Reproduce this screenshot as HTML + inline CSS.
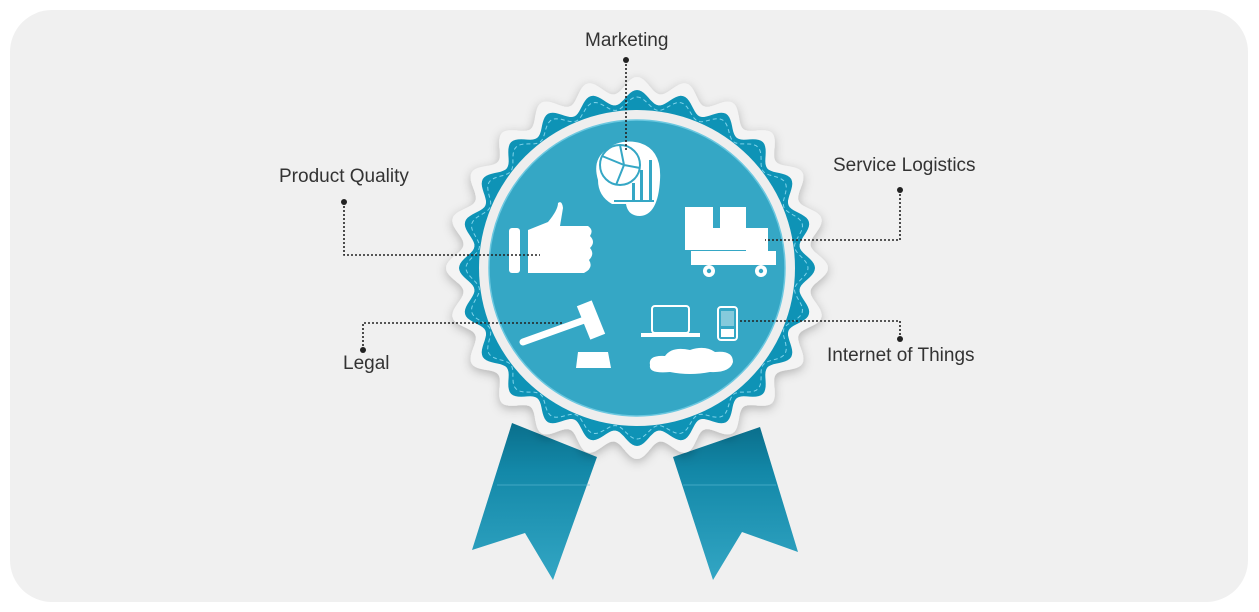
<!DOCTYPE html>
<html><head><meta charset="utf-8"><style>
html,body{margin:0;padding:0;background:#fff;}
body{width:1259px;height:612px;overflow:hidden;position:relative;font-family:"Liberation Sans",sans-serif;}
.lbl{position:absolute;font-size:19px;color:#333;white-space:nowrap;}
</style></head><body>
<svg width="1259" height="612" style="position:absolute;left:0;top:0">
<defs>
<linearGradient id="rg" x1="0" y1="0" x2="0" y2="1">
<stop offset="0" stop-color="#0a6f8c"/><stop offset="0.3" stop-color="#1388a8"/><stop offset="1" stop-color="#33a6c4"/>
</linearGradient>
<filter id="sh" x="-20%" y="-20%" width="140%" height="140%"><feDropShadow dx="0" dy="3" stdDeviation="5" flood-color="#000" flood-opacity="0.25"/></filter>
</defs>
<rect x="10" y="10" width="1238" height="592" rx="42" fill="#f0f0f0"/>
<polygon points="512,423 597,457 553,580 525,533 472,550" fill="url(#rg)"/>
<polygon points="760,427 673,457 713,580 742,532 798,552" fill="url(#rg)"/>
<line x1="497" y1="485" x2="590" y2="485" stroke="#5fbcd6" stroke-width="1" opacity="0.6"/>
<line x1="683" y1="485" x2="776" y2="485" stroke="#5fbcd6" stroke-width="1" opacity="0.6"/>
<path id="outer" fill="#f4f4f4" filter="url(#sh)"/>
<path id="mid" fill="#0e93b6"/>
<path id="stitch" fill="none" stroke="#7fd3ea" stroke-width="1" stroke-dasharray="4,3"/>
<circle cx="637" cy="268" r="158" fill="#eeeeee"/>
<circle cx="637" cy="268" r="148" fill="#35a7c5" stroke="#6cc8e0" stroke-width="1.5"/>
<path d="M606,150 Q620,138 640,143 Q662,150 660,180 Q658,215 640,216 Q628,216 626,204 L612,204 Q598,196 598,180 Q592,160 606,150Z" fill="#fff"/>
<circle cx="620" cy="165" r="20" fill="#fff" stroke="#35a7c5" stroke-width="2"/>
<path d="M620,145 L624,165 L640,168 M624,165 L616,185 M624,165 L602,156" stroke="#35a7c5" stroke-width="2" fill="none"/>
<g fill="#35a7c5"><rect x="632" y="183" width="3" height="19"/><rect x="640" y="170" width="3" height="32"/><rect x="649" y="160" width="3" height="42"/><rect x="614" y="200" width="40" height="2"/></g>
<rect x="509" y="228" width="11" height="45" rx="3" fill="#fff"/>
<path d="M528,230 L548,222 Q558,210 558,203 Q562,200 563,208 L560,226 L588,226 Q594,230 590,236 Q596,242 590,248 Q595,254 589,260 Q594,268 584,273 L528,273Z" fill="#fff"/>
<path d="M685,207 L713,207 L713,228 L720,228 L720,207 L746,207 L746,250 L685,250Z" fill="#fff"/>
<rect x="746" y="228" width="22" height="23" fill="#fff"/>
<rect x="691" y="251" width="85" height="14" fill="#fff"/>
<circle cx="709" cy="271" r="6" fill="#fff"/><circle cx="709" cy="271" r="2.2" fill="#35a7c5"/>
<circle cx="761" cy="271" r="6" fill="#fff"/><circle cx="761" cy="271" r="2.2" fill="#35a7c5"/>
<line x1="523" y1="342" x2="590" y2="318" stroke="#fff" stroke-width="7" stroke-linecap="round"/>
<rect x="583" y="302" width="16" height="36" fill="#fff" transform="rotate(-22 591 320)"/>
<path d="M578,352 L608,352 L611,368 L576,368Z" fill="#fff"/>
<rect x="652" y="306" width="37" height="27" rx="3" fill="none" stroke="#fff" stroke-width="2"/>
<rect x="641" y="333" width="59" height="4" fill="#fff"/>
<rect x="718" y="307" width="19" height="33" rx="3" fill="none" stroke="#fff" stroke-width="2"/>
<rect x="721" y="311" width="13" height="15" fill="#fff" opacity="0.4"/>
<rect x="721" y="329" width="13" height="8" fill="#fff"/>
<path d="M650,365 Q648,355 665,356 Q672,346 690,350 Q705,345 715,352 Q733,350 733,362 Q730,373 710,372 Q690,376 670,372 Q648,374 650,365Z" fill="#fff"/>
<g stroke="#222" stroke-width="1.6" stroke-dasharray="2,2" fill="none">
<path d="M626,60 L626,150"/>
<path d="M344,202 L344,255 L540,255"/>
<path d="M900,190 L900,240 L765,240"/>
<path d="M363,350 L363,323 L563,323"/>
<path d="M900,339 L900,321 L740,321"/>
</g>
<g fill="#222"><circle cx="626" cy="60" r="3"/><circle cx="344" cy="202" r="3"/><circle cx="900" cy="190" r="3"/><circle cx="363" cy="350" r="3"/><circle cx="900" cy="339" r="3"/></g>
</svg>
<div class="lbl" style="left:585px;top:30px">Marketing</div>
<div class="lbl" style="left:279px;top:166px">Product Quality</div>
<div class="lbl" style="left:833px;top:155px">Service Logistics</div>
<div class="lbl" style="left:343px;top:353px">Legal</div>
<div class="lbl" style="left:827px;top:345px">Internet of Things</div>
<script>
function wave(r0,a,n,ph){var d="",N=480;for(var i=0;i<=N;i++){var t=i/N*2*Math.PI;var r=r0+a*Math.cos(n*t+ph);var x=637+r*Math.sin(t),y=268-r*Math.cos(t);d+=(i?"L":"M")+x.toFixed(1)+","+y.toFixed(1);}return d+"Z";}
document.getElementById("outer").setAttribute("d",wave(183,8,24,0));
document.getElementById("mid").setAttribute("d",wave(171,7,24,0));
document.getElementById("stitch").setAttribute("d",wave(165,6,24,0));
</script>
</body></html>
